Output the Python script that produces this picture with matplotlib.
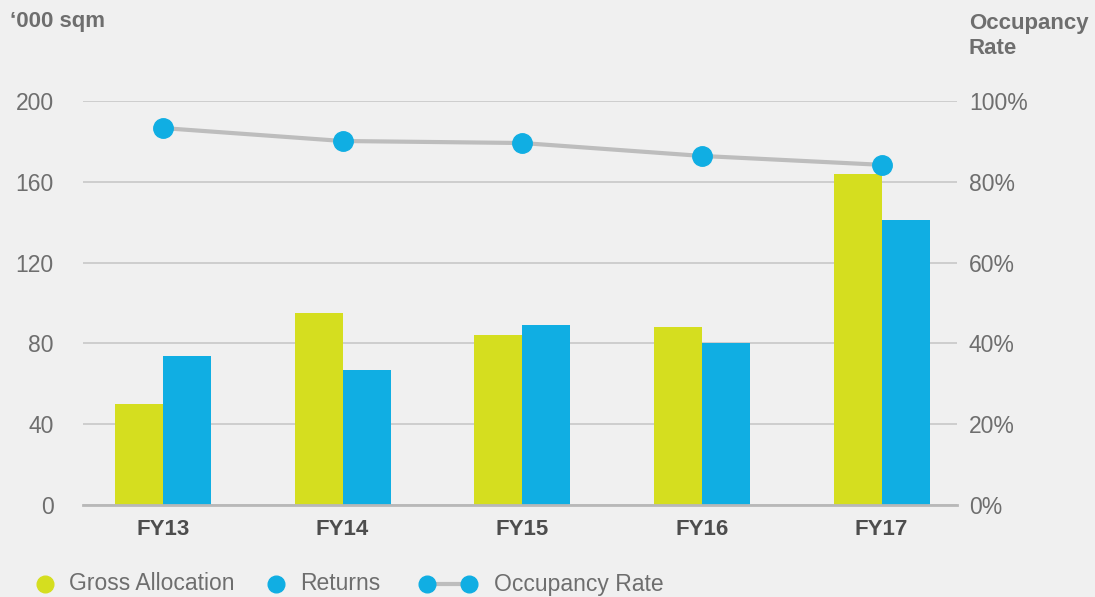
import matplotlib.pyplot as plt
from matplotlib.lines import Line2D
import numpy as np

plt.rcParams['font.family'] = ['Liberation Sans', 'DejaVu Sans']

years = ['FY13', 'FY14', 'FY15', 'FY16', 'FY17']
gross_alloc = [50, 95, 84, 88, 164]
returns = [74, 67, 89, 80, 141]
occupancy = [93.3, 90.1, 89.6, 86.4, 84.2]

left_ticks = [0, 40, 80, 120, 160, 200]
right_ticks = [0, 20, 40, 60, 80, 100]

green = '#d5de1f'
blue = '#10aee3'
grey_line = '#bdbdbd'
txt = '#6e6e6e'
bg = '#f0f0f0'

fig = plt.figure(figsize=(10.95, 5.97), dpi=100, facecolor=bg)
ax = fig.add_axes([83/1095, 1 - 505/597, (957-83)/1095, (505-101)/597])
ax.set_facecolor(bg)

x = np.arange(len(years))
w = 0.267
ax.bar(x - w/2, gross_alloc, w, color=green, zorder=3)
ax.bar(x + w/2, returns, w, color=blue, zorder=3)

ax.set_ylim(0, 200)
ax.set_xlim(-0.445, 4.42)
ax.set_yticks(left_ticks)
ax.yaxis.grid(True, color='#c8c8c8', linewidth=1.2, zorder=0)
ax.set_axisbelow(True)
for s in ['top', 'right', 'left']:
    ax.spines[s].set_visible(False)
ax.spines['bottom'].set_color('#b8b8b8')
ax.spines['bottom'].set_linewidth(2)
ax.spines['bottom'].set_zorder(4)
ax.set_xticks(x)
ax.set_xticklabels(years, fontsize=16, fontweight='bold', color='#4d4d4d')
ax.tick_params(axis='x', length=0, pad=10)
ax.tick_params(axis='y', length=0, pad=21, labelsize=16.5, labelcolor=txt)

ax2 = ax.twinx()
ax2.set_ylim(0, 100)
ax2.set_yticks(right_ticks)
ax2.set_yticklabels([f'{t}%' for t in right_ticks])
ax2.tick_params(axis='y', length=0, pad=8.5, labelsize=16.5, labelcolor=txt)
for s in ax2.spines.values():
    s.set_visible(False)
ax2.plot(x, occupancy, color=grey_line, linewidth=3, marker='o', markersize=14,
         markerfacecolor=blue, markeredgecolor=blue, zorder=5, clip_on=False)

fig.text(10/1095, 1 - 21/597, '\u2018000 sqm', fontsize=16, fontweight='bold',
         color=txt, va='center', ha='left')
fig.text(969/1095, 1 - 36/597, 'Occupancy\nRate', fontsize=16, fontweight='bold',
         color=txt, va='center', ha='left', linespacing=1.3)

# legend
ly = 1 - 584/597
def px(v):
    return v / 1095

fig.add_artist(Line2D([px(45)], [ly], marker='o', markersize=12, color=green,
                      linestyle='none', transform=fig.transFigure))
fig.text(px(69), ly, 'Gross Allocation', fontsize=16.5, color=txt, va='center')
fig.add_artist(Line2D([px(276)], [ly], marker='o', markersize=12, color=blue,
                      linestyle='none', transform=fig.transFigure))
fig.text(px(300), ly, 'Returns', fontsize=16.5, color=txt, va='center')
fig.add_artist(Line2D([px(427), px(469)], [ly, ly], color=grey_line, linewidth=3,
                      transform=fig.transFigure))
fig.add_artist(Line2D([px(427), px(469)], [ly, ly], marker='o', markersize=12,
                      color=blue, linestyle='none', transform=fig.transFigure))
fig.text(px(494), ly, 'Occupancy Rate', fontsize=16.5, color=txt, va='center')

fig.savefig('out.png', dpi=100, facecolor=bg)
